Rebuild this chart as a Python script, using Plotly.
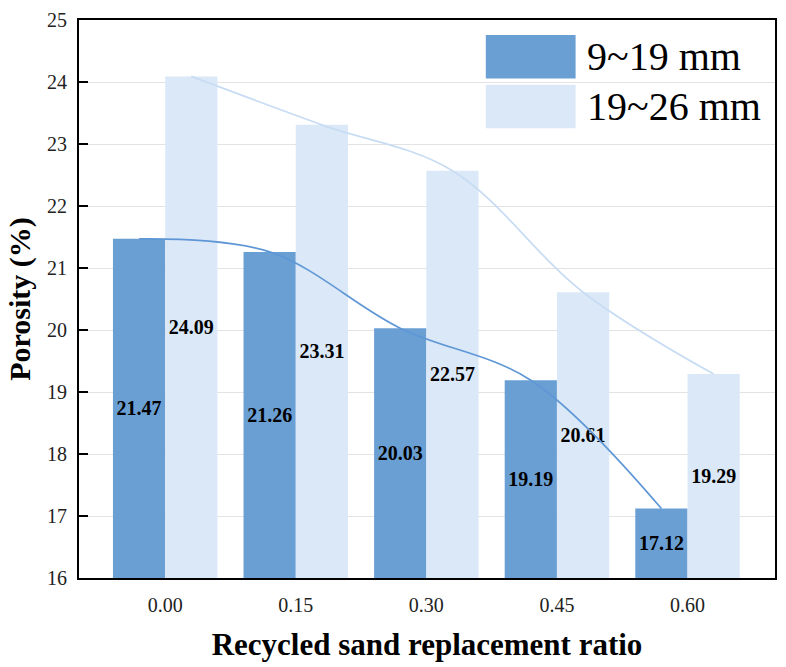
import plotly.graph_objects as go

categories = ["0.00", "0.15", "0.30", "0.45", "0.60"]
series_names = ["9~19 mm", "19~26 mm"]
small_agg = [21.47, 21.26, 20.03, 19.19, 17.12]
large_agg = [24.09, 23.31, 22.57, 20.61, 19.29]
y_ticks = [16, 17, 18, 19, 20, 21, 22, 23, 24, 25]

dark = "#6a9fd4"
light = "#dae8f7"
dark_line = "#5f97d6"
light_line = "#c8dcf3"
serif = "Liberation Serif, Times New Roman, serif"

idx = list(range(len(categories)))
bar_w = 0.4
y_base = y_ticks[0]

fig = go.Figure()
for vals, col, name in [(small_agg, dark, series_names[0]), (large_agg, light, series_names[1])]:
    fig.add_trace(go.Bar(
        x=idx, y=[v - y_base for v in vals], base=y_base, customdata=vals, name=name,
        marker=dict(color=col, line=dict(width=0)),
        texttemplate="<b>%{customdata:.2f}</b>", textposition="inside", insidetextanchor="middle",
        textangle=0, constraintext="none",
        textfont=dict(family=serif, size=20, color="black"),
        showlegend=False, hovertemplate="%{customdata:.2f}<extra></extra>",
    ))

fig.add_trace(go.Scatter(
    x=[i - bar_w / 2 for i in idx], y=small_agg, mode="lines",
    line=dict(color=dark_line, width=1.7, shape="spline", smoothing=1.0),
    showlegend=False, hoverinfo="skip"))
fig.add_trace(go.Scatter(
    x=[i + bar_w / 2 for i in idx], y=large_agg, mode="lines",
    line=dict(color=light_line, width=1.8, shape="spline", smoothing=1.0),
    showlegend=False, hoverinfo="skip"))

# custom legend (large swatches)
legend_items = [(series_names[0], dark, 0.973, 0.895), (series_names[1], light, 0.884, 0.806)]
for name, col, y1, y0 in legend_items:
    fig.add_shape(type="rect", xref="paper", yref="paper", x0=0.5845, x1=0.7135, y0=y0, y1=y1,
                  fillcolor=col, line=dict(width=0))
    fig.add_annotation(xref="paper", yref="paper", x=0.727, y=(y0 + y1) / 2, text=name,
                       showarrow=False, xanchor="left", yanchor="middle",
                       font=dict(family=serif, size=40, color="black"))

fig.update_layout(
    width=786, height=667,
    margin=dict(l=79, r=9, t=17, b=89),
    paper_bgcolor="white", plot_bgcolor="white",
    barmode="group", bargap=0.2, bargroupgap=0,
    font=dict(family=serif, color="black"),
)
fig.update_xaxes(
    range=[-0.66, 4.67], tickvals=idx, ticktext=categories,
    showgrid=False, zeroline=False, showline=True, linecolor="black", linewidth=2,
    mirror=True, ticks="", tickfont=dict(family=serif, size=20, color="#222"),
    ticklabelstandoff=8,
    title=dict(text="<b>Recycled sand replacement ratio</b>",
               font=dict(family=serif, size=31, color="black"), standoff=18),
)
fig.update_yaxes(
    range=[16, 25], tickvals=y_ticks,
    showgrid=True, gridcolor="#e3e3e3", gridwidth=1, zeroline=False,
    showline=True, linecolor="black", linewidth=2, mirror=True,
    ticks="inside", ticklen=9, tickwidth=2, tickcolor="black",
    tickfont=dict(family=serif, size=20, color="#222"), ticklabelstandoff=6,
    title=dict(text="<b>Porosity (%)</b>", font=dict(family=serif, size=30, color="black"),
               standoff=8),
)

fig.write_html("out.html")
